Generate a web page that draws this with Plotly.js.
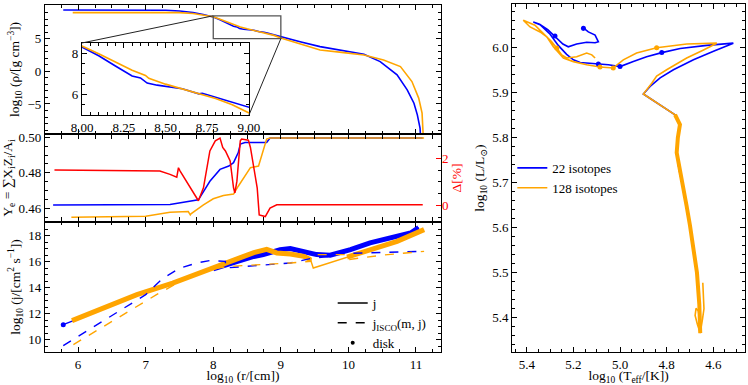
<!DOCTYPE html>
<html>
<head>
<meta charset="utf-8">
<script src="https://cdn.plot.ly/plotly-3.0.1.min.js"></script>
<style>
  html, body { margin: 0; padding: 0; background: #fff; }
  #div_plot { width: 748px; height: 385px; }
</style>
</head>
<body>
<div id="div_plot"></div>
<script>
var FONT = 'Liberation Serif, DejaVu Serif, serif';
var BLUE = '#0000ff', ORANGE = '#ffa500', RED = '#ff0000';

// density profile, log10 r vs log10 rho
var blue_r_rho = [5.78, 6.5, 7.0, 7.3, 7.5, 7.7, 7.85, 8.0, 8.1, 8.2, 8.3, 8.35, 8.39, 8.45, 8.6, 8.7, 8.72, 8.75, 8.8, 8.9, 9.0, 9.3, 9.58, 9.9, 10.23, 10.47, 10.72, 10.87, 10.97, 11.02, 11.06, 11.07];
var blue_rho   = [9.39, 9.39, 9.38, 9.35, 9.24, 9.0, 8.7, 8.3, 7.88, 7.38, 6.9, 6.8, 6.55, 6.45, 6.28, 6.03, 6.05, 5.98, 5.85, 5.6, 5.32, 4.5, 3.78, 3.2, 2.6, 1.49, -0.55, -2.84, -4.88, -6.67, -8.7, -10.5];
var orange_r_rho = [5.92, 6.5, 7.0, 7.5, 7.7, 7.85, 8.0, 8.1, 8.2, 8.3, 8.38, 8.40, 8.5, 8.6, 8.7, 8.8, 8.9, 9.0, 9.3, 9.58, 9.9, 10.23, 10.52, 10.77, 10.94, 11.04, 11.09, 11.1, 11.11];
var orange_rho   = [8.98, 8.99, 9.0, 8.98, 8.85, 8.6, 8.35, 7.98, 7.58, 7.18, 6.92, 6.78, 6.5, 6.27, 6.05, 5.8, 5.5, 5.1, 4.2, 3.27, 2.9, 2.5, 1.74, 0.72, -1.57, -4.1, -6.4, -8.7, -10.5];

// electron fraction Ye and its relative difference
var blue_r_ye = [5.63, 7.0, 7.36, 7.78, 7.855, 7.95, 8.10, 8.23, 8.3, 8.37, 8.4, 8.47, 8.79, 8.84, 11.1];
var blue_ye   = [0.4618, 0.4619, 0.4621, 0.4647, 0.4695, 0.4752, 0.4819, 0.4838, 0.4857, 0.4914, 0.4962, 0.4971, 0.4971, 0.4996, 0.4996];
var orange_r_ye = [5.9, 7.0, 7.36, 7.63, 7.66, 7.67, 7.855, 8.0, 8.15, 8.3, 8.37, 8.47, 8.55, 8.67, 8.72, 8.79, 8.84, 11.12];
var orange_ye   = [0.4549, 0.4555, 0.4577, 0.4581, 0.4562, 0.4568, 0.4619, 0.4653, 0.4672, 0.468, 0.4724, 0.4781, 0.4829, 0.4838, 0.4905, 0.499, 0.4996, 0.4996];
var delta_r = [5.65, 7.21, 7.36, 7.46, 7.485, 7.51, 7.78, 7.855, 7.95, 8.03, 8.10, 8.14, 8.18, 8.25, 8.3, 8.32, 8.35, 8.37, 8.4, 8.42, 8.52, 8.55, 8.6, 8.65, 8.68, 8.77, 8.84, 8.94, 11.1];
var delta_pct = [1.5, 1.46, 1.32, 1.2, 1.6, 1.46, 0.2, 0.75, 2.31, 2.74, 2.86, 2.46, 2.31, 1.89, 0.75, 0.53, 1.03, 1.74, 2.74, 2.82, 2.77, 2.46, 1.6, 0.75, -0.4, -0.47, -0.11, 0.03, 0.03];

// specific angular momentum j, and j_ISCO
var blue_r_j = [5.78, 6.2, 6.6, 7.0, 7.4, 7.8, 8.0, 8.2, 8.4, 8.6, 8.74, 8.99, 9.14, 9.34, 9.53, 9.73, 10.03, 10.32, 10.62, 10.92, 11.04];
var blue_j   = [11.15, 12.0, 12.85, 13.65, 14.45, 15.15, 15.45, 15.8, 16.15, 16.4, 16.54, 16.92, 17.0, 16.74, 16.54, 16.49, 16.92, 17.44, 17.82, 18.2, 18.62];
var orange_r_j = [5.91, 6.4, 6.87, 7.4, 7.86, 8.1, 8.4, 8.6, 8.79, 8.94, 9.14, 9.34, 9.44, 9.48, 9.98, 10.32, 10.72, 11.12];
var orange_j   = [11.46, 12.45, 13.46, 14.35, 15.25, 15.8, 16.41, 16.7, 16.95, 16.67, 16.59, 16.41, 16.15, 15.51, 16.35, 16.92, 17.56, 18.46];
var blue_r_isco = [5.78, 6.4, 7.0, 7.07, 7.26, 7.51, 7.76, 7.95, 8.18, 8.18, 8.74, 9.14, 9.48, 9.73, 9.75, 9.98, 10.47, 11.12];
var blue_isco   = [9.54, 11.5, 13.46, 13.82, 14.74, 15.51, 15.9, 16.08, 16.02, 15.51, 15.77, 15.9, 16.28, 16.4, 16.6, 16.64, 16.72, 16.79];
var orange_r_isco = [5.93, 6.5, 7.16, 7.56, 7.91, 8.25, 8.74, 9.14, 9.44, 9.46, 9.98, 9.99, 10.5, 11.12];
var orange_isco   = [9.62, 11.4, 13.46, 14.62, 15.38, 15.64, 15.77, 15.9, 16.02, 16.54, 16.54, 16.15, 16.5, 16.79];

// HR diagram
var blue_teff = [4.656, 4.660, 4.670, 4.685, 4.700, 4.715, 4.728, 4.747, 4.757, 4.752, 4.743, 4.764, 4.900, 4.871, 4.828, 4.771, 4.685, 4.599, 4.514, 4.628, 4.742, 4.821, 4.886, 4.943, 5.000, 5.050, 5.093, 5.143, 5.171, 5.200, 5.229, 5.265, 5.300, 5.343, 5.372, 5.345, 5.310, 5.275, 5.245, 5.222, 5.186, 5.143, 5.107, 5.093, 5.107, 5.136, 5.160, 5.157];
var blue_lum  = [5.366, 5.430, 5.500, 5.560, 5.605, 5.650, 5.686, 5.730, 5.767, 5.800, 5.829, 5.851, 5.897, 5.914, 5.933, 5.951, 5.973, 5.992, 6.010, 6.005, 5.998, 5.989, 5.980, 5.969, 5.958, 5.962, 5.964, 5.965, 5.967, 5.973, 5.985, 6.005, 6.030, 6.051, 6.057, 6.052, 6.040, 6.022, 6.008, 6.002, 6.008, 6.012, 6.011, 6.013, 6.028, 6.035, 6.045, 6.038];
var orange_teff = [4.645, 4.640, 4.646, 4.656, 4.668, 4.678, 4.674, 4.664, 4.658, 4.656, 4.660, 4.670, 4.685, 4.700, 4.715, 4.728, 4.747, 4.757, 4.752, 4.743, 4.764, 4.900, 4.864, 4.843, 4.800, 4.714, 4.642, 4.585, 4.714, 4.843, 4.929, 4.986, 5.029, 5.086, 5.143, 5.200, 5.243, 5.286, 5.314, 5.343, 5.386, 5.415, 5.365, 5.329, 5.293, 5.271, 5.250, 5.229, 5.186, 5.143, 5.121, 5.107];
var orange_lum  = [5.478, 5.420, 5.398, 5.366, 5.385, 5.405, 5.421, 5.415, 5.395, 5.366, 5.430, 5.500, 5.560, 5.605, 5.650, 5.686, 5.730, 5.767, 5.800, 5.829, 5.851, 5.897, 5.921, 5.937, 5.951, 5.977, 5.995, 6.010, 6.008, 6.000, 5.988, 5.973, 5.955, 5.957, 5.962, 5.969, 5.977, 6.002, 6.024, 6.035, 6.046, 6.061, 6.050, 6.032, 6.013, 5.999, 5.984, 5.977, 5.980, 5.988, 5.984, 5.977];
var blue_mark_teff = [4.821, 5.000, 5.093, 5.279, 5.157];
var blue_mark_lum  = [5.989, 5.958, 5.964, 6.026, 6.043];
var orange_mark_teff = [4.843, 5.029, 5.086, 5.271];
var orange_mark_lum  = [6.000, 5.955, 5.957, 5.999];

var R_RANGE = [5.51, 11.37];
var RHO_RANGE = [-9.6, 10.15];
var INSET_XR = [8.0, 9.0], INSET_YR = [5.0, 8.5];
var LEFT = [0, 0.5657], RIGHT = [0.6676, 1];
var TOP = [0.6264, 0.9971], MID = [0.3736, 0.6264], BOT = [0, 0.3736];
var INSET_X = [0.0529, 0.2914], INSET_Y = [0.681, 0.888];

function frame_axis(extra, minor_dtick){
   var ax = {
      showline: true, linecolor: '#000', linewidth: 1.2, mirror: 'allticks',
      ticks: 'inside', ticklen: 5, tickwidth: 1, tickcolor: '#000',
      showgrid: false, zeroline: false, automargin: false,
      tickfont: {family: FONT, size: 13, color: '#000'},
      minor: {ticks: 'inside', ticklen: 2.5, tickwidth: 0.8, tickcolor: '#000', dtick: minor_dtick, showgrid: false}
   };
   return Object.assign(ax, extra);
}

function ytitle(text, color){
   return {text: text, standoff: 4, font: {family: FONT, size: 13.5, color: color || '#000'}};
}

function line(x, y, xa, ya, color, width, dash){
   return {
      x: x, y: y, xaxis: xa, yaxis: ya, type: 'scatter', mode: 'lines',
      line: {color: color, width: width, dash: dash || 'solid'},
      showlegend: false, hoverinfo: 'skip'
   };
}

// keep the orange disk band away from the thin jump around 9.5
var gap = orange_r_j.indexOf(9.48);
var orange_disk_r = orange_r_j.slice(0, gap).concat([null], orange_r_j.slice(gap + 1));
var orange_disk_j = orange_j.slice(0, gap).concat([null], orange_j.slice(gap + 1));
var blue_start = blue_r_j.indexOf(8.0);

var data = [
   line(blue_r_rho, blue_rho, 'x', 'y', BLUE, 1.6),
   line(orange_r_rho, orange_rho, 'x', 'y', ORANGE, 1.6),
   line(blue_r_rho, blue_rho, 'x6', 'y6', BLUE, 1.6),
   line(orange_r_rho, orange_rho, 'x6', 'y6', ORANGE, 1.6),

   line(blue_r_ye, blue_ye, 'x2', 'y2', BLUE, 1.5),
   line(orange_r_ye, orange_ye, 'x2', 'y2', ORANGE, 1.5),
   line(delta_r, delta_pct, 'x2', 'y5', RED, 1.5),

   line(blue_r_j, blue_j, 'x3', 'y3', BLUE, 1.4),
   line(blue_r_j.slice(blue_start), blue_j.slice(blue_start), 'x3', 'y3', BLUE, 5),
   line(orange_r_j, orange_j, 'x3', 'y3', ORANGE, 1.4),
   line(orange_disk_r, orange_disk_j, 'x3', 'y3', ORANGE, 5),
   line(blue_r_isco, blue_isco, 'x3', 'y3', BLUE, 1.4, 'dash'),
   line(orange_r_isco, orange_isco, 'x3', 'y3', ORANGE, 1.4, 'dash'),
   {x: [blue_r_j[0]], y: [blue_j[0]], xaxis: 'x3', yaxis: 'y3', mode: 'markers',
    marker: {color: BLUE, size: 5}, showlegend: false, hoverinfo: 'skip'},

   {x: [null], y: [null], xaxis: 'x3', yaxis: 'y3', mode: 'lines', name: 'j',
    line: {color: '#000', width: 1.5}, legend: 'legend'},
   {x: [null], y: [null], xaxis: 'x3', yaxis: 'y3', mode: 'lines', name: 'j<sub>ISCO</sub>(m, j)',
    line: {color: '#000', width: 1.5, dash: 'dash'}, legend: 'legend'},
   {x: [null], y: [null], xaxis: 'x3', yaxis: 'y3', mode: 'markers', name: 'disk',
    marker: {color: '#000', size: 4}, legend: 'legend'}
];

var hr_blue = line(blue_teff, blue_lum, 'x4', 'y4', BLUE, 1.6);
hr_blue.showlegend = true; hr_blue.name = '22 isotopes'; hr_blue.legend = 'legend2';
var hr_orange = line(orange_teff, orange_lum, 'x4', 'y4', ORANGE, 1.6);
hr_orange.showlegend = true; hr_orange.name = '128 isotopes'; hr_orange.legend = 'legend2';
data.push(hr_blue);
data.push(line(orange_teff.slice(9, 21), orange_lum.slice(9, 21), 'x4', 'y4', ORANGE, 4));
data.push(hr_orange);
data.push({x: blue_mark_teff, y: blue_mark_lum, xaxis: 'x4', yaxis: 'y4', mode: 'markers',
   marker: {color: BLUE, size: 5}, showlegend: false, hoverinfo: 'skip'});
data.push({x: orange_mark_teff, y: orange_mark_lum, xaxis: 'x4', yaxis: 'y4', mode: 'markers',
   marker: {color: ORANGE, size: 5}, showlegend: false, hoverinfo: 'skip'});

function to_paper(v, range, dom){
   return dom[0] + (v - range[0]) / (range[1] - range[0]) * (dom[1] - dom[0]);
}

var shapes = [
   {type: 'rect', xref: 'x', yref: 'y', x0: INSET_XR[0], x1: INSET_XR[1], y0: INSET_YR[0], y1: INSET_YR[1],
    line: {color: '#555', width: 1.3}},
   {type: 'line', xref: 'paper', yref: 'paper',
    x0: to_paper(INSET_XR[0], R_RANGE, LEFT), y0: to_paper(INSET_YR[1], RHO_RANGE, TOP),
    x1: INSET_X[0], y1: INSET_Y[1], line: {color: '#222', width: 1}},
   {type: 'line', xref: 'paper', yref: 'paper',
    x0: to_paper(INSET_XR[1], R_RANGE, LEFT), y0: to_paper(INSET_YR[0], RHO_RANGE, TOP),
    x1: INSET_X[1], y1: INSET_Y[0], line: {color: '#222', width: 1}}
];

var layout = {
   width: 748, height: 385,
   margin: {l: 45, r: 3, t: 4, b: 33},
   paper_bgcolor: '#fff', plot_bgcolor: '#fff',
   hovermode: false,
   font: {family: FONT, size: 13, color: '#000'},
   xaxis: frame_axis({domain: LEFT, anchor: 'y', range: R_RANGE, dtick: 1, tick0: 0, showticklabels: false}, 0.25),
   yaxis: frame_axis({domain: TOP, anchor: 'x', range: RHO_RANGE, dtick: 5, tick0: 0,
      title: ytitle('log<sub>10</sub> (ρ/[g cm<sup>−3</sup>])')}, 1),
   xaxis2: frame_axis({domain: LEFT, anchor: 'y2', range: R_RANGE, dtick: 1, tick0: 0, showticklabels: false}, 0.25),
   yaxis2: frame_axis({domain: MID, anchor: 'x2', range: [0.4522, 0.5019], dtick: 0.02, tick0: 0, tickformat: '.2f',
      mirror: true, title: ytitle('Y<sub>e</sub> = ∑X<sub>i</sub>Z<sub>i</sub>/A<sub>i</sub>')}, 0.005),
   yaxis5: frame_axis({overlaying: 'y2', anchor: 'x2', side: 'right', range: [-0.7, 3.03], dtick: 2, tick0: 0,
      showline: false, mirror: false, tickcolor: RED,
      tickfont: {family: FONT, size: 13, color: RED},
      title: ytitle('Δ[%]', RED)}, 0.5),
   xaxis3: frame_axis({domain: LEFT, anchor: 'y3', range: R_RANGE, dtick: 1, tick0: 0,
      title: {text: 'log<sub>10</sub> (r/[cm])', standoff: 4, font: {family: FONT, size: 13.5}}}, 0.25),
   yaxis3: frame_axis({domain: BOT, anchor: 'x3', range: [9.05, 19.05], dtick: 2, tick0: 0,
      title: ytitle('log<sub>10</sub> (j/[cm<sup>2</sup> s<sup>−1</sup>])')}, 0.5),
   xaxis4: frame_axis({domain: RIGHT, anchor: 'y4', range: [5.462, 4.464], dtick: 0.2, tick0: 0, tickformat: '.1f',
      title: {text: 'log<sub>10</sub> (T<sub>eff</sub>/[K])', standoff: 4, font: {family: FONT, size: 13.5}}}, 0.05),
   yaxis4: frame_axis({domain: [0, 1], anchor: 'x4', range: [5.324, 6.097], dtick: 0.1, tick0: 0, tickformat: '.1f',
      title: ytitle('log<sub>10</sub> (L/L<sub>⊙</sub>)')}, 0.02),
   xaxis6: frame_axis({domain: INSET_X, anchor: 'y6', range: INSET_XR, dtick: 0.25, tick0: 0, tickformat: '.2f'}, 0.05),
   yaxis6: frame_axis({domain: INSET_Y, anchor: 'x6', range: INSET_YR, dtick: 2, tick0: 0}, 0.5),
   legend: {x: 0.411, y: 0.184, xanchor: 'left', yanchor: 'top', bgcolor: 'rgba(0,0,0,0)',
      font: {family: FONT, size: 13}},
   legend2: {x: 0.6676, y: 0.572, xanchor: 'left', yanchor: 'top', bgcolor: 'rgba(0,0,0,0)',
      font: {family: FONT, size: 13}},
   shapes: shapes
};

var config = {
   responsive: false,
   displayModeBar: false
};

Plotly.newPlot('div_plot', data, layout, config);
</script>
</body>
</html>
